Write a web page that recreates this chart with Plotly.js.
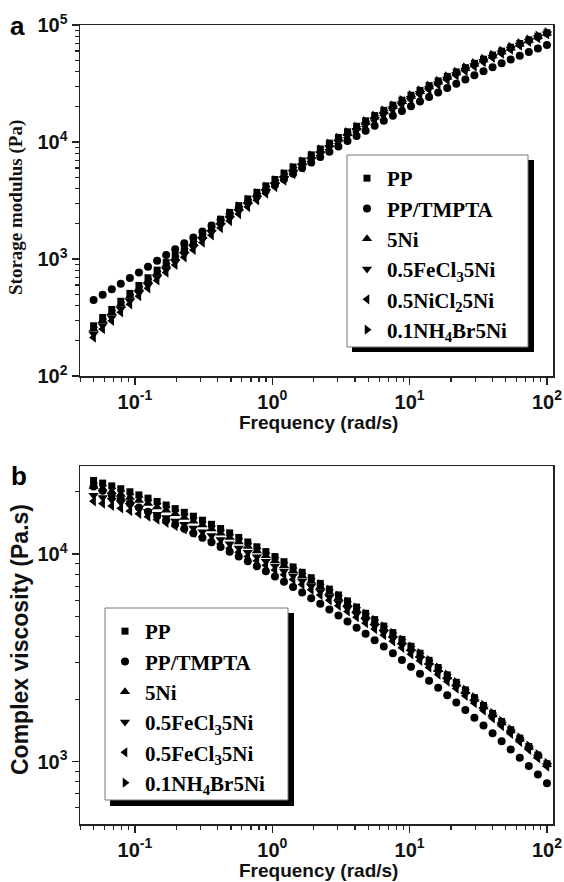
<!DOCTYPE html>
<html><head><meta charset="utf-8">
<script src="https://cdn.plot.ly/plotly-3.0.1.min.js"></script>
<style>html,body{margin:0;padding:0;background:#fff;} #chart{width:564px;height:882px;}</style>
</head><body><div id="chart"></div>
<script>
// Frequency (rad/s)
const freq = [0.05,0.0582,0.0678,0.0789,0.0919,0.1069,0.1245,0.1450,0.1688,0.1964,0.2288,0.2664,0.3101,0.3611,0.4204,0.4895,0.5700,0.6636,0.7727,0.8982,1.046,1.217,1.417,1.650,1.921,2.236,2.604,3.031,3.529,4.109,4.782,5.567,6.486,7.551,8.792,10.23,11.90,13.86,16.14,18.79,21.87,25.46,29.64,34.51,40.18,46.78,54.46,63.40,73.80,85.93,100];

// Panel a: storage modulus (Pa)
const gPP = [268.6,316.4,370.5,435.1,508.1,593.7,690.8,802.6,932.1,1079,1247,1438,1657,1904,2184,2501,2858,3260,3711,4216,4783,5412,6116,6894,7764,8717,9773,10940,12220,13620,15160,16820,18650,20640,22780,25110,27630,30330,33230,36350,39680,43220,47010,51030,55280,59780,64510,69480,74710,80160,85870];
const gTMPTA = [446.7,496.0,552.0,615.2,687.1,768.3,860.0,964.2,1081,1214,1362,1530,1718,1930,2167,2432,2729,3060,3429,3839,4298,4804,5365,5986,6671,7430,8260,9175,10180,11270,12470,13770,15190,16730,18400,20210,22150,24250,26510,28920,31500,34240,37190,40300,43610,47100,50760,54650,58720,62950,67420];
const g5Ni = [251,296,347,408,477,558,650,756,879,1019,1179,1361,1570,1806,2074,2377,2720,3106,3540,4026,4573,5180,5860,6614,7457,8382,9408,10540,11790,13160,14660,16290,18080,20030,22130,24430,26910,29570,32440,35530,38830,42340,46110,50110,54350,58840,63570,68550,73790,79270,85020];
const gFeCl3 = [228.4,269.8,316.9,373.2,437.1,512.2,597.7,696.4,811.1,942.0,1092,1262,1459,1681,1934,2220,2545,2911,3323,3786,4308,4888,5539,6262,7072,7963,8953,10050,11260,12590,14040,15630,17380,19290,21340,23600,26040,28660,31490,34550,37820,41310,45060,49050,53280,57780,62530,67540,72820,78350,84170];
const gNiCl2 = [213.4,252.4,296.8,350.0,410.4,481.6,562.6,656.4,765.4,890.0,1033,1196,1383,1596,1838,2113,2425,2777,3175,3621,4125,4686,5316,6017,6804,7670,8633,9699,10880,12180,13600,15160,16870,18740,20770,22990,25390,27980,30780,33800,37040,40500,44230,48200,52420,56900,61640,66640,71930,77480,83320];
const gNH4Br = [261.0,307.7,360.6,423.8,495.3,579.2,674.4,784.1,911.3,1056,1221,1409,1625,1869,2145,2458,2811,3209,3656,4156,4719,5344,6043,6818,7684,8633,9686,10850,12130,13530,15070,16740,18570,20570,22710,25060,27600,30310,33240,36400,39760,43340,47180,51250,55570,60130,64940,70000,75320,80890,86720];

// Panel b: complex viscosity (Pa.s)
const ePP = [22660,22020,21350,20690,20000,19320,18640,17950,17270,16590,15920,15250,14590,13940,13300,12670,12050,11450,10860,10300,9739,9205,8685,8184,7701,7236,6791,6365,5955,5565,5195,4842,4507,4190,3888,3603,3335,3083,2845,2622,2414,2219,2037,1868,1710,1564,1427,1300,1185,1077,978];
const eTMPTA = [21180,20220,19300,18430,17590,16800,16040,15300,14600,13910,13260,12620,12010,11420,10850,10290,9761,9246,8748,8272,7811,7369,6943,6535,6144,5768,5409,5069,4740,4429,4134,3853,3588,3336,3097,2871,2658,2459,2270,2094,1929,1775,1631,1496,1371,1255,1146,1046,953,868,788];
const e5Ni = [21180,20600,20000,19400,18780,18160,17540,16910,16290,15660,15050,14430,13820,13220,12630,12040,11470,10910,10360,9831,9311,8810,8322,7851,7396,6958,6537,6134,5746,5376,5024,4688,4369,4066,3778,3505,3248,3006,2777,2563,2362,2174,1998,1834,1681,1539,1406,1283,1170,1065,968];
const eFeCl3 = [19270,18780,18260,17750,17210,16670,16130,15580,15030,14480,13940,13390,12840,12310,11780,11250,10730,10220,9726,9245,8771,8313,7866,7433,7014,6610,6221,5847,5486,5142,4813,4499,4200,3915,3643,3386,3143,2913,2696,2492,2301,2121,1952,1795,1648,1511,1383,1264,1155,1053,958];
const eFeCl3b = [18000,17560,17100,16640,16160,15670,15180,14680,14190,13680,13180,12680,12180,11680,11200,10700,10230,9756,9291,8842,8399,7970,7550,7143,6748,6367,5998,5645,5302,4975,4662,4363,4077,3805,3545,3298,3065,2844,2635,2438,2253,2080,1916,1764,1621,1488,1363,1247,1141,1041,949];
const eNH4Br = [22030,21420,20780,20150,19500,18850,18200,17540,16890,16230,15590,14940,14310,13680,13060,12450,11860,11270,10700,10150,9609,9088,8582,8093,7621,7167,6730,6313,5911,5529,5165,4817,4488,4175,3878,3596,3331,3082,2846,2626,2419,2225,2044,1876,1719,1573,1436,1310,1194,1087,987];

const namesA = ['PP','PP/TMPTA','5Ni','0.5FeCl<sub>3</sub>5Ni','0.5NiCl<sub>2</sub>5Ni','0.1NH<sub>4</sub>Br5Ni'];
const namesB = ['PP','PP/TMPTA','5Ni','0.5FeCl<sub>3</sub>5Ni','0.5FeCl<sub>3</sub>5Ni','0.1NH<sub>4</sub>Br5Ni'];
const seriesA = [gPP,gTMPTA,g5Ni,gFeCl3,gNiCl2,gNH4Br];
const seriesB = [ePP,eTMPTA,e5Ni,eFeCl3,eFeCl3b,eNH4Br];

const xTickVals = [0.1,1,10,100];
const xTickText = ['10<sup>-1</sup>','10<sup>0</sup>','10<sup>1</sup>','10<sup>2</sup>'];
const yaTickVals = [100,1000,10000,100000];
const yaTickText = ['10<sup>2</sup>','10<sup>3</sup>','10<sup>4</sup>','10<sup>5</sup>'];
const ybTickVals = [1000,10000];
const ybTickText = ['10<sup>3</sup>','10<sup>4</sup>'];

const symbols = ['square','circle','triangle-up','triangle-down','triangle-left','triangle-right'];
const sizes = [7,8,9,9,9,9];

const traces = [];
seriesA.forEach((s,i)=>traces.push({x:freq,y:s,type:'scatter',mode:'markers',name:namesA[i],
  marker:{symbol:symbols[i],size:sizes[i],color:'#000'},xaxis:'x',yaxis:'y',legend:'legend',legendgroup:'a'+i}));
seriesB.forEach((s,i)=>traces.push({x:freq,y:s,type:'scatter',mode:'markers',name:namesB[i],
  marker:{symbol:symbols[i],size:sizes[i],color:'#000'},xaxis:'x2',yaxis:'y2',legend:'legend2',legendgroup:'b'+i}));

const sans = 'Liberation Sans, Arial, sans-serif';
const serif = 'Liberation Serif, Times New Roman, serif';
const tickFont = {family:sans,size:20,color:'#111',weight:'bold'};
const minor = {ticks:'outside',ticklen:4,tickwidth:1.2,tickcolor:'#222',dtick:'D1',showgrid:false};
function ax(extra){return Object.assign({type:'log',showline:true,linecolor:'#222',linewidth:1.5,mirror:true,
  ticks:'outside',ticklen:7,tickwidth:1.5,tickcolor:'#222',tickmode:'array',tickfont:tickFont,
  showgrid:false,zeroline:false,minor:minor},extra);}

const legendBase = {xanchor:'left',yanchor:'top',bgcolor:'rgba(0,0,0,0)',borderwidth:0,
  font:{family:serif,size:21,color:'#000',weight:'bold'},tracegroupgap:3,traceorder:'normal'};

function px(x){return (x-80)/473;} function py(y){return (824-y)/799;}

const layout = {
  width:564,height:882,margin:{l:80,r:11,t:25,b:58},paper_bgcolor:'#fff',plot_bgcolor:'#fff',
  showlegend:true,hovermode:false,
  xaxis:ax({range:[-1.4,2.044],domain:[0,1],anchor:'y',tickvals:xTickVals,ticktext:xTickText}),
  yaxis:ax({range:[2,5],domain:[0.5607,1],anchor:'x',tickvals:yaTickVals,ticktext:yaTickText}),
  xaxis2:ax({range:[-1.4,2.044],domain:[0,1],anchor:'y2',tickvals:xTickVals,ticktext:xTickText}),
  yaxis2:ax({range:[2.70,4.425],domain:[0,0.448],anchor:'x2',tickvals:ybTickVals,ticktext:ybTickText}),
  legend:Object.assign({},legendBase,{x:px(347),y:py(158)}),
  legend2:Object.assign({},legendBase,{x:px(105),y:py(611)}),
  shapes:[
    {type:'rect',xref:'paper',yref:'paper',x0:px(352),x1:px(534),y0:py(352),y1:py(160),fillcolor:'#000',line:{width:0},layer:'above'},
    {type:'rect',xref:'paper',yref:'paper',x0:px(347),x1:px(528),y0:py(347),y1:py(155),fillcolor:'#fff',line:{color:'#777',width:1},layer:'above'},
    {type:'rect',xref:'paper',yref:'paper',x0:px(110),x1:px(294),y0:py(806),y1:py(613),fillcolor:'#000',line:{width:0},layer:'above'},
    {type:'rect',xref:'paper',yref:'paper',x0:px(105),x1:px(288),y0:py(800),y1:py(608),fillcolor:'#fff',line:{color:'#777',width:1},layer:'above'}
  ],
  annotations:[
    {text:'a',xref:'paper',yref:'paper',x:px(18),y:py(26),showarrow:false,xanchor:'center',yanchor:'middle',font:{family:sans,size:26,color:'#000',weight:'bold'}},
    {text:'b',xref:'paper',yref:'paper',x:px(19),y:py(476),showarrow:false,xanchor:'center',yanchor:'middle',font:{family:sans,size:26,color:'#000',weight:'bold'}},
    {text:'Storage modulus (Pa)',xref:'paper',yref:'paper',x:px(16),y:py(208),textangle:-90,showarrow:false,xanchor:'center',yanchor:'middle',font:{family:serif,size:19,color:'#111',weight:'bold'}},
    {text:'Complex viscosity (Pa.s)',xref:'paper',yref:'paper',x:px(20),y:py(640),textangle:-90,showarrow:false,xanchor:'center',yanchor:'middle',font:{family:sans,size:23,color:'#111',weight:'bold'}},
    {text:'Frequency (rad/s)',xref:'paper',yref:'paper',x:px(318),y:py(422),showarrow:false,xanchor:'center',yanchor:'middle',font:{family:sans,size:19,color:'#111',weight:'bold'}},
    {text:'Frequency (rad/s)',xref:'paper',yref:'paper',x:px(318),y:py(870),showarrow:false,xanchor:'center',yanchor:'middle',font:{family:sans,size:19,color:'#111',weight:'bold'}}
  ]
};
Plotly.newPlot('chart',traces,layout,{staticPlot:true,displayModeBar:false});
</script></body></html>
